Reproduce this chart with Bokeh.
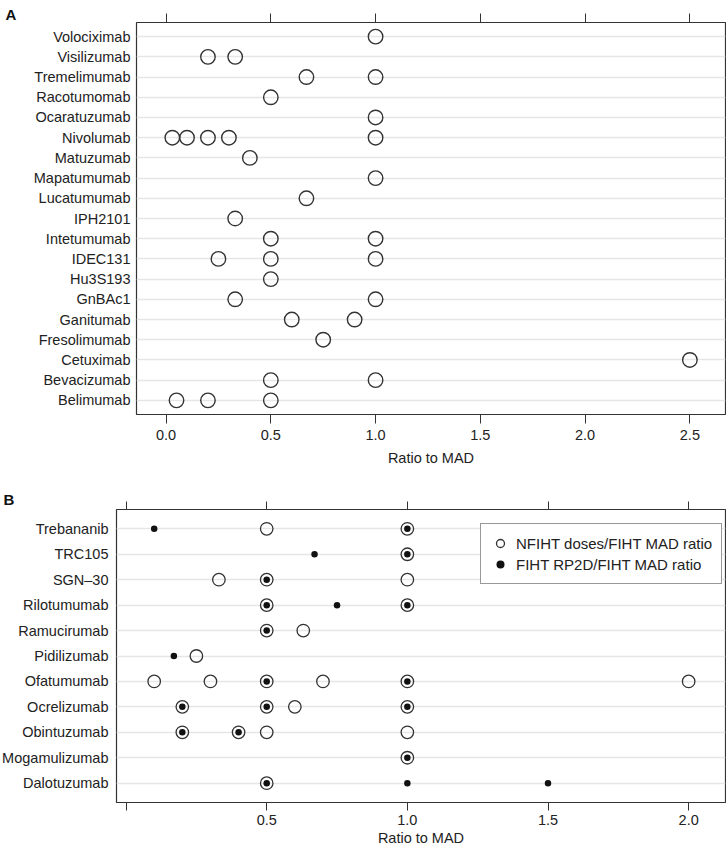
from bokeh.plotting import figure
from bokeh.models import FactorRange, Range1d, LinearAxis, FixedTicker
from bokeh.layouts import column
from bokeh.embed import file_html
from bokeh.resources import INLINE

# ---------------- data: panel A ----------------
names_a = ["Volociximab", "Visilizumab", "Tremelimumab", "Racotumomab", "Ocaratuzumab",
           "Nivolumab", "Matuzumab", "Mapatumumab", "Lucatumumab", "IPH2101",
           "Intetumumab", "IDEC131", "Hu3S193", "GnBAc1", "Ganitumab",
           "Fresolimumab", "Cetuximab", "Bevacizumab", "Belimumab"]
ratios_a = [[1.0], [0.2, 0.33], [0.67, 1.0], [0.5], [1.0],
            [0.03, 0.1, 0.2, 0.3, 1.0], [0.4], [1.0], [0.67], [0.33],
            [0.5, 1.0], [0.25, 0.5, 1.0], [0.5], [0.33, 1.0], [0.6, 0.9],
            [0.75], [2.5], [0.5, 1.0], [0.05, 0.2, 0.5]]
ticks_a = [0.0, 0.5, 1.0, 1.5, 2.0, 2.5]
tick_labels_a = ["0.0", "0.5", "1.0", "1.5", "2.0", "2.5"]

# ---------------- data: panel B ----------------
names_b = ["Trebananib", "TRC105", "SGN\u201330", "Rilotumumab", "Ramucirumab",
           "Pidilizumab", "Ofatumumab", "Ocrelizumab", "Obintuzumab",
           "Mogamulizumab", "Dalotuzumab"]
nfiht_b = [[0.5, 1.0], [1.0], [0.33, 0.5, 1.0], [0.5, 1.0], [0.5, 0.63],
           [0.25], [0.1, 0.3, 0.5, 0.7, 1.0, 2.0], [0.2, 0.5, 0.6, 1.0],
           [0.2, 0.4, 0.5, 1.0], [1.0], [0.5]]
rp2d_b = [[0.1, 1.0], [0.67, 1.0], [0.5], [0.5, 0.75, 1.0], [0.5],
          [0.17], [0.5, 1.0], [0.2, 0.5, 1.0],
          [0.2, 0.4], [1.0], [0.5, 1.0, 1.5]]
ticks_b = [0.0, 0.5, 1.0, 1.5, 2.0]
tick_labels_b = ["", "0.5", "1.0", "1.5", "2.0"]
legend_open = "NFIHT doses/FIHT MAD ratio"
legend_filled = "FIHT RP2D/FIHT MAD ratio"
axis_title = "Ratio to MAD"

FONT = "Liberation Sans"
TXT = "#222222"
DARK = "#333333"


def flatten(names, vals):
    xs, ys = [], []
    for n, vs in zip(names, vals):
        for v in vs:
            xs.append(v)
            ys.append(n)
    return xs, ys


def style(p, ticks, labels, tick_out, lab_standoff, title_standoff, ylab_standoff,
          panel_offset, panel_standoff):
    p.outline_line_color = DARK
    p.outline_line_width = 1.2
    p.background_fill_color = "white"
    p.border_fill_color = "white"
    p.xgrid.visible = False
    p.ygrid.grid_line_color = "#e6e6e6"
    p.ygrid.grid_line_width = 1.5

    # panel letter as the (left aligned, bold) title
    p.title.align = "left"
    p.title.offset = panel_offset
    p.title.standoff = panel_standoff
    p.title.vertical_align = "bottom"
    p.title.text_font = FONT
    p.title.text_font_size = "15px"
    p.title.text_font_style = "bold"
    p.title.text_color = "#111111"

    overrides = {t: l for t, l in zip(ticks, labels)}
    xa = p.xaxis[0]
    xa.ticker = FixedTicker(ticks=ticks)
    xa.major_label_overrides = overrides
    xa.axis_line_color = None
    xa.major_tick_line_color = DARK
    xa.major_tick_out = tick_out
    xa.major_tick_in = 0
    xa.minor_tick_line_color = None
    xa.major_label_text_font = FONT
    xa.major_label_text_font_size = "14.5px"
    xa.major_label_text_color = TXT
    xa.major_label_standoff = lab_standoff
    xa.axis_label = axis_title
    xa.axis_label_text_font = FONT
    xa.axis_label_text_font_size = "14.5px"
    xa.axis_label_text_font_style = "normal"
    xa.axis_label_text_color = TXT
    xa.axis_label_standoff = title_standoff

    # tick marks only along the top edge (labels not drawn)
    top = LinearAxis(ticker=FixedTicker(ticks=ticks), axis_line_color=None,
                     major_tick_line_color=DARK, major_tick_out=tick_out, major_tick_in=0,
                     minor_tick_line_color=None, major_label_text_color=None,
                     major_label_text_font_size="1px", major_label_standoff=0)
    p.add_layout(top, "above")

    ya = p.yaxis[0]
    ya.axis_label = None
    ya.axis_label_standoff = 0
    ya.axis_line_color = None
    ya.major_tick_line_color = None
    ya.major_tick_out = 0
    ya.major_tick_in = 0
    ya.minor_tick_line_color = None
    ya.major_label_text_font = FONT
    ya.major_label_text_font_size = "14.5px"
    ya.major_label_text_color = TXT
    ya.major_label_standoff = ylab_standoff


# ---------------- panel A ----------------
pa = figure(width=726, height=476, title="A",
            y_range=FactorRange(factors=list(reversed(names_a)), range_padding=0.2,
                                range_padding_units="absolute"),
            x_range=Range1d(-0.141, 2.67),
            output_backend="svg", toolbar_location=None,
            min_border_left=134, min_border_right=1,
            min_border_top=22, min_border_bottom=62)
style(pa, ticks_a, tick_labels_a, 9, 6, 7, 6, -131, -18)
xa_pts, ya_pts = flatten(names_a, ratios_a)
pa.scatter(x=xa_pts, y=ya_pts, marker="circle", size=14.5, fill_color=None,
           line_color=DARK, line_width=1.4)

# ---------------- panel B ----------------
# the label column is measured ~20px wider than it draws, so the figure is made
# 20px wider and pulled 20px to the left
SHIFT = 20
pb = figure(width=726 + SHIFT, height=374, title="B",
            y_range=FactorRange(factors=list(reversed(names_b)), range_padding=0.26,
                                range_padding_units="absolute"),
            x_range=Range1d(-0.034, 2.131),
            output_backend="svg", toolbar_location=None,
            min_border_left=116 + SHIFT, min_border_right=1,
            min_border_top=33, min_border_bottom=48)
pb.styles = {"margin-left": f"-{SHIFT}px", "max-width": "none",
             "width": f"{726 + SHIFT}px", "min-width": f"{726 + SHIFT}px"}
style(pb, ticks_b, tick_labels_b, 8, 4, 2, 8, -113, -13)
xo, yo = flatten(names_b, nfiht_b)
xf, yf = flatten(names_b, rp2d_b)
pb.scatter(x=xo, y=yo, marker="circle", size=12.5, fill_color=None,
           line_color=DARK, line_width=1.3, legend_label=legend_open)
pb.scatter(x=xf, y=yf, marker="circle", size=6.5, fill_color="#111111",
           line_color=None, legend_label=legend_filled)
lg = pb.legend[0]
lg.location = (364, 218)
lg.padding = 9
lg.margin = 0
lg.spacing = 1
lg.glyph_width = 20
lg.glyph_height = 20
lg.label_height = 20
lg.label_standoff = 6
lg.label_text_font = FONT
lg.label_text_font_size = "15px"
lg.label_text_color = TXT
lg.border_line_color = DARK
lg.border_line_width = 1
lg.background_fill_color = "white"
lg.background_fill_alpha = 1.0

layout = column(pa, pb, spacing=0)
open("out.html", "w").write(file_html(layout, INLINE))
